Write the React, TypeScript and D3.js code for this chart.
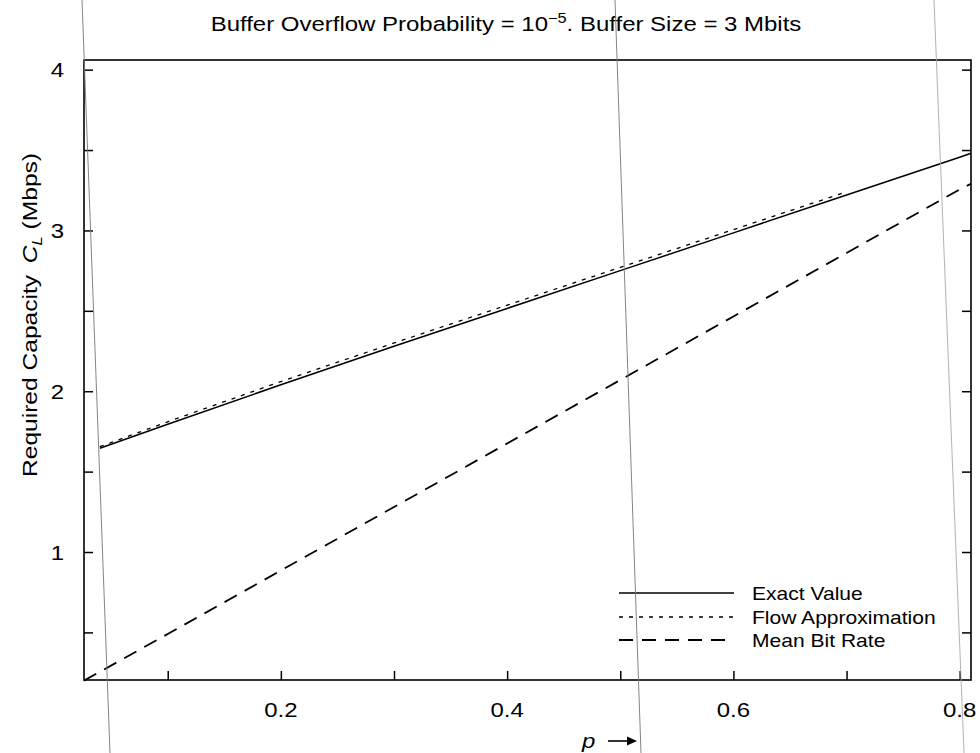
import React, { useEffect, useRef } from "react";
import * as d3 from "d3";

// values (p, required capacity in Mbps)
const pExact = [0.04, 0.1, 0.2, 0.3, 0.4, 0.5, 0.6, 0.7, 0.8, 0.81];
const exactValue = [1.645, 1.795, 2.04, 2.28, 2.515, 2.75, 2.985, 3.22, 3.455, 3.48];
const pFlow = [0.04, 0.1, 0.2, 0.3, 0.4, 0.5, 0.6, 0.7];
const flowApprox = [1.655, 1.81, 2.06, 2.3, 2.535, 2.77, 3.005, 3.24];
const pMean = [0.026, 0.1, 0.2, 0.3, 0.4, 0.5, 0.6, 0.7, 0.8, 0.81];
const meanBitRate = [0.2, 0.49, 0.885, 1.28, 1.675, 2.07, 2.465, 2.86, 3.255, 3.29];

const xTicks = [0.1, 0.2, 0.3, 0.4, 0.5, 0.6, 0.7, 0.8];
const xTickLabels = ["", "0.2", "", "0.4", "", "0.6", "", "0.8"];
const yTicks = [0.5, 1, 1.5, 2, 2.5, 3, 3.5, 4];
const yTickLabels = ["", "1", "", "2", "", "3", "", "4"];
const seriesNames = ["Exact Value", "Flow Approximation", "Mean Bit Rate"];

const W = 980;
const H = 753;
const frame = { left: 84, top: 60, right: 971, bottom: 680 };
const FONT = "'Liberation Sans', Arial, Helvetica, sans-serif";
const SX = 1.17; // the printed font is wider than Arial

// thin slanted lines left by the scanner
const scanLines = [
  { x1: 82, x2: 110, color: "#777" },
  { x1: 615, x2: 641, color: "#777" },
  { x1: 934, x2: 964, color: "#aaa" },
];

const App = () => {
  const svgRef = useRef<SVGSVGElement>(null);

  useEffect(() => {
    const svg = d3.select(svgRef.current);
    svg.selectAll("*").remove();

    const x = d3.scaleLinear().domain([0.026, 0.81]).range([frame.left, frame.right]);
    const y = d3.scaleLinear().domain([0.204, 4.06]).range([frame.bottom, frame.top]);

    svg.append("rect").attr("width", W).attr("height", H).attr("fill", "#fff");

    // ticks point inward on left, right and bottom
    const tidy = (g: any) => {
      g.select(".domain").remove();
      g.selectAll("line").attr("stroke", "#000").attr("stroke-width", 1.5);
    };
    svg.append("g")
      .attr("transform", `translate(0,${frame.bottom})`)
      .call(d3.axisBottom(x).tickValues(xTicks).tickSize(-9).tickSizeOuter(0).tickFormat(() => ""))
      .call(tidy);
    svg.append("g")
      .attr("transform", `translate(${frame.left},0)`)
      .call(d3.axisLeft(y).tickValues(yTicks).tickSize(-9).tickSizeOuter(0).tickFormat(() => ""))
      .call(tidy);
    svg.append("g")
      .attr("transform", `translate(${frame.right},0)`)
      .call(d3.axisRight(y).tickValues(yTicks).tickSize(-9).tickSizeOuter(0).tickFormat(() => ""))
      .call(tidy);

    svg.append("rect")
      .attr("x", frame.left)
      .attr("y", frame.top)
      .attr("width", frame.right - frame.left)
      .attr("height", frame.bottom - frame.top)
      .attr("fill", "none")
      .attr("stroke", "#000")
      .attr("stroke-width", 1.6);

    const label = (tx: number, ty: number, anchor: string, size: number) =>
      svg.append("text")
        .attr("transform", `translate(${tx},${ty}) scale(${SX},1)`)
        .attr("text-anchor", anchor)
        .attr("font-family", FONT)
        .attr("font-size", size)
        .attr("fill", "#000");

    xTicks.forEach((v, i) => {
      if (xTickLabels[i]) label(x(v), 717, "middle", 20.5).text(xTickLabels[i]);
    });
    yTicks.forEach((v, i) => {
      if (yTickLabels[i]) label(64, y(v) + 7.5, "end", 20.5).text(yTickLabels[i]);
    });

    // title with superscript exponent
    const title = label(506, 31, "middle", 20.5);
    title.append("tspan").text("Buffer Overflow Probability = 10");
    title.append("tspan").attr("dy", -8).attr("font-size", 14).text("\u22125");
    title.append("tspan").attr("dy", 8).text(". Buffer Size = 3 Mbits");

    // y axis title
    const yTitle = svg.append("text")
      .attr("transform", `translate(37,${315}) rotate(-90) scale(${SX},1)`)
      .attr("text-anchor", "middle")
      .attr("font-family", FONT)
      .attr("font-size", 21)
      .attr("fill", "#000");
    yTitle.append("tspan").text("Required Capacity");
    yTitle.append("tspan").attr("dx", 10).attr("font-style", "italic").text("C");
    yTitle.append("tspan").attr("dy", 5).attr("font-size", 14).attr("font-style", "italic").text("L");
    yTitle.append("tspan").attr("dy", -5).attr("dx", 6).text("(Mbps)");

    // x axis title: p with arrow
    label(582, 748, "start", 20.5).attr("font-style", "italic").text("p");
    svg.append("line")
      .attr("x1", 608).attr("x2", 634).attr("y1", 741).attr("y2", 741)
      .attr("stroke", "#000").attr("stroke-width", 1.6);
    svg.append("path")
      .attr("d", "M637,741 L627,736.5 L627,745.5 Z")
      .attr("fill", "#000");

    const line = d3.line<[number, number]>()
      .x((d) => x(d[0]))
      .y((d) => y(d[1]));

    const styles = [
      { dash: null, width: 1.5 },
      { dash: "4,6", width: 1.3 },
      { dash: "14,9", width: 1.8 },
    ];
    const series = [
      d3.zip(pExact, exactValue),
      d3.zip(pFlow, flowApprox),
      d3.zip(pMean, meanBitRate),
    ];
    series.forEach((pts, i) => {
      svg.append("path")
        .datum(pts as [number, number][])
        .attr("d", line)
        .attr("fill", "none")
        .attr("stroke", "#000")
        .attr("stroke-width", styles[i].width)
        .attr("stroke-dasharray", styles[i].dash);
    });

    // legend
    const legendRows = [593, 617, 640];
    seriesNames.forEach((name, i) => {
      svg.append("line")
        .attr("x1", 619).attr("x2", 734)
        .attr("y1", legendRows[i]).attr("y2", legendRows[i])
        .attr("stroke", "#000")
        .attr("stroke-width", styles[i].width)
        .attr("stroke-dasharray", styles[i].dash);
      label(752, legendRows[i] + 6.5, "start", 18).text(name);
    });

    scanLines.forEach((s) => {
      svg.append("line")
        .attr("x1", s.x1).attr("x2", s.x2)
        .attr("y1", 0).attr("y2", H)
        .attr("stroke", s.color)
        .attr("stroke-width", 0.9);
    });
  }, []);

  return (
    <svg
      ref={svgRef}
      width={W}
      height={H}
      style={{ position: "absolute", left: 0, top: 0 }}
    />
  );
};

export default App;
